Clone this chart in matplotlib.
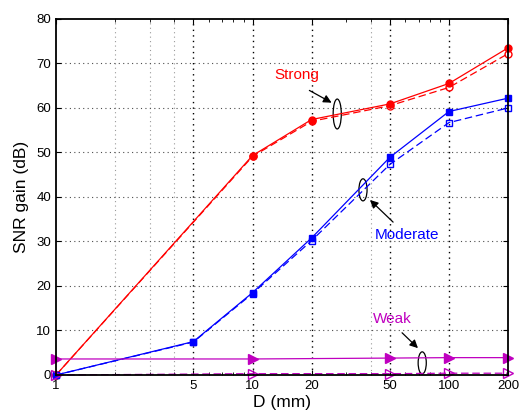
import numpy as np
import matplotlib
matplotlib.use('Agg')
import matplotlib.pyplot as plt
from matplotlib.patches import Ellipse

plt.rcParams['font.family'] = ['Liberation Sans', 'DejaVu Sans']

# --- data ---
d_strong = [1, 10, 20, 50, 100, 200]
strong_solid = [0.0, 49.3, 57.4, 60.9, 65.5, 73.5]
strong_dash = [0.0, 49.1, 57.0, 60.5, 64.6, 72.2]

d_moderate = [1, 5, 10, 20, 50, 100, 200]
moderate_solid = [0.0, 7.5, 18.5, 30.8, 48.9, 59.2, 62.2]
moderate_dash = [0.0, 7.4, 18.3, 30.2, 47.3, 56.7, 60.0]

d_weak = [1, 10, 50, 100, 200]
weak_solid = [3.6, 3.6, 3.8, 3.9, 3.9]
weak_dash = [0.0, 0.3, 0.3, 0.4, 0.4]

xticks = [1, 5, 10, 20, 50, 100, 200]
minor_grid = [2, 3, 4, 40]
yticks = [0, 10, 20, 30, 40, 50, 60, 70, 80]

fig = plt.figure(figsize=(5.19, 4.15), dpi=100)
ax = fig.add_axes([0.108, 0.0964, 0.871, 0.858])
ax.set_xscale('log')

# grid (MATLAB style dotted)
for x in minor_grid:
    ax.axvline(x, color='0.6', linestyle=(0, (1, 3)), linewidth=0.8, zorder=0)
for x in xticks[1:-1]:
    ax.axvline(x, color='k', linestyle=(0, (1, 3)), linewidth=1.0, zorder=0)
for y in yticks[1:-1]:
    ax.axhline(y, color='0.3', linestyle=(0, (1, 3)), linewidth=0.8, zorder=0)

ms = 5
kw = dict(lw=0.9, clip_on=False)
ax.plot(d_strong, strong_solid, '-', color='red', marker='o', ms=ms, **kw)
ax.plot(d_strong, strong_dash, color='red', marker='o', mfc='none', ms=ms,
        dashes=(6, 3), **kw)
ax.plot(d_moderate, moderate_solid, '-', color='blue', marker='s', ms=ms - 0.5, **kw)
ax.plot(d_moderate, moderate_dash, color='blue', marker='s', mfc='none', ms=ms - 0.5,
        dashes=(6, 3), **kw)
ax.plot(d_weak, weak_solid, '-', color='m', marker='>', ms=ms + 1.5, **kw)
ax.plot(d_weak, weak_dash, color='m', marker='>', mfc='none', ms=ms + 1.5,
        dashes=(6, 3), **kw)

ax.set_xlim(1, 200)
ax.set_ylim(0, 80)
ax.set_xticks(xticks)
ax.set_xticklabels([str(x) for x in xticks])
ax.set_yticks(yticks)
ax.tick_params(which='both', direction='in', top=True, right=True, labelsize=9.5)
ax.tick_params(which='minor', labelbottom=False)
for s in ax.spines.values():
    s.set_linewidth(1.3)

ax.set_xlabel('D (mm)', fontsize=12.5, labelpad=2)
ax.set_ylabel('SNR gain (dB)', fontsize=12.5, labelpad=5)

# annotations
arrow = dict(arrowstyle='-|>', color='k', lw=0.9, mutation_scale=12)
ax.text(0.533, 0.843, 'Strong', color='red', fontsize=11, ha='center', va='center',
        transform=ax.transAxes)
ax.annotate('', xy=(0.615, 0.761), xytext=(0.555, 0.803), xycoords='axes fraction',
            arrowprops=arrow)
ax.add_patch(Ellipse((0.622, 0.733), 0.018, 0.084, transform=ax.transAxes,
                     fill=False, ec='k', lw=0.9))

ax.text(0.777, 0.393, 'Moderate', color='blue', fontsize=11, ha='center', va='center',
        transform=ax.transAxes)
ax.annotate('', xy=(0.69, 0.497), xytext=(0.75, 0.424), xycoords='axes fraction',
            arrowprops=arrow)
ax.add_patch(Ellipse((0.679, 0.52), 0.018, 0.062, transform=ax.transAxes,
                     fill=False, ec='k', lw=0.9))

ax.text(0.743, 0.157, 'Weak', color='m', fontsize=11, ha='center', va='center',
        transform=ax.transAxes)
ax.annotate('', xy=(0.805, 0.070), xytext=(0.761, 0.124), xycoords='axes fraction',
            arrowprops=arrow)
ax.add_patch(Ellipse((0.81, 0.034), 0.018, 0.062, transform=ax.transAxes,
                     fill=False, ec='k', lw=0.9))

fig.savefig('out.png', dpi=100)
